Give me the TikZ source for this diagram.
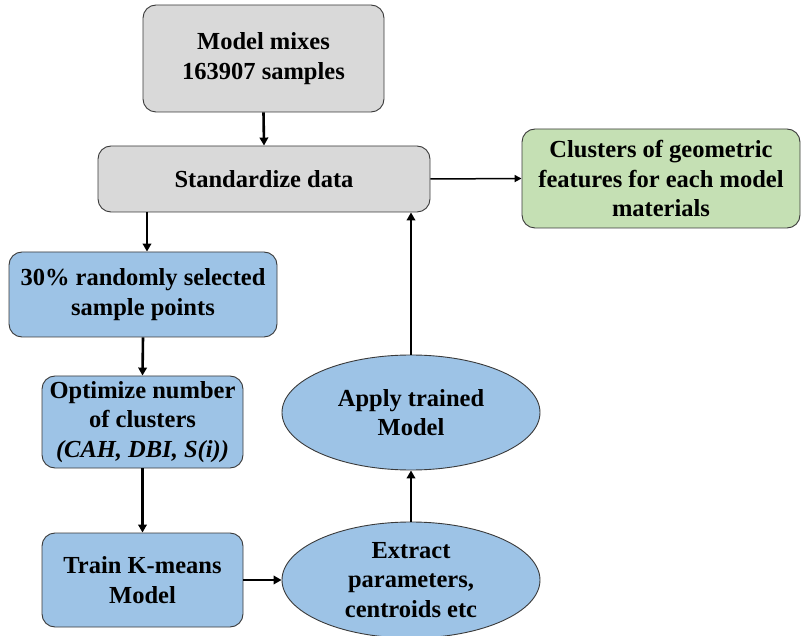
\documentclass[tikz,border=0pt]{standalone}
\usepackage{fontspec}
\setmainfont{Liberation Serif}[BoldFont={Liberation Serif Bold},ItalicFont={Liberation Serif Italic},BoldItalicFont={Liberation Serif Bold Italic}]
\usetikzlibrary{shapes.geometric,arrows.meta}
\definecolor{gfill}{HTML}{D9D9D9}
\definecolor{bfill}{HTML}{9DC3E6}
\definecolor{grfill}{HTML}{C5E0B4}
\definecolor{edge}{HTML}{3A3A3A}
\begin{document}
\begin{tikzpicture}[x=1pt,y=-1pt,
  base/.style={draw=edge,line width=0.9pt,align=center,inner sep=1pt,
    font=\fontsize{24.5}{29.5}\selectfont\bfseries},
  rbox/.style={base,rectangle,rounded corners=13pt},
  ell/.style={base,ellipse},
  arr/.style={line width=2.6pt,-{Triangle[length=8pt,width=8.5pt]}},
  arrthin/.style={line width=1.5pt,-{Triangle[length=7pt,width=7pt]}}]
\useasboundingbox (0,0) rectangle (801,636);
\node[rbox,fill=gfill,minimum width=241pt,minimum height=107pt] (mix) at (263.5,58.5) {Model mixes\\163907 samples};
\node[rbox,fill=gfill,minimum width=332pt,minimum height=66pt] (std) at (264,179) {Standardize data};
\node[rbox,fill=grfill,minimum width=278pt,minimum height=99pt] (grn) at (661,178.5) {Clusters of geometric\\features for each model\\materials};
\node[rbox,fill=bfill,minimum width=268pt,minimum height=85pt] (sel) at (143,294.5) {30\% randomly selected\\sample points};
\node[rbox,fill=bfill,minimum width=201pt,minimum height=92pt] (opt) at (142.5,422) {Optimize number\\of clusters\\\textit{(CAH, DBI, S(i))}};
\node[rbox,fill=bfill,minimum width=201pt,minimum height=94pt] (trn) at (142.5,580) {Train K-means\\Model};
\node[ell,fill=bfill,minimum width=258pt,minimum height=115pt,inner sep=0pt] (app) at (411,412.5) {Apply trained\\Model};
\node[ell,fill=bfill,minimum width=258pt,minimum height=116pt,inner sep=0pt] (ext) at (411,580) {Extract\\parameters,\\centroids etc};
\draw[arr] (mix.south) -- (std.north);
\draw[arrthin] (std.east) -- (grn.west);
\coordinate (d1) at (147,212);
\draw[arr] (d1) -- (d1 |- sel.north);
\draw[arr] (sel.south) -- (opt.north);
\draw[arr] (opt.south) -- (trn.north);
\draw[arr] (trn.east) -- (ext.west);
\draw[arr] (ext.north) -- (app.south);
\draw[arr] (app.north) -- (app.north |- std.south);
\end{tikzpicture}
\end{document}
